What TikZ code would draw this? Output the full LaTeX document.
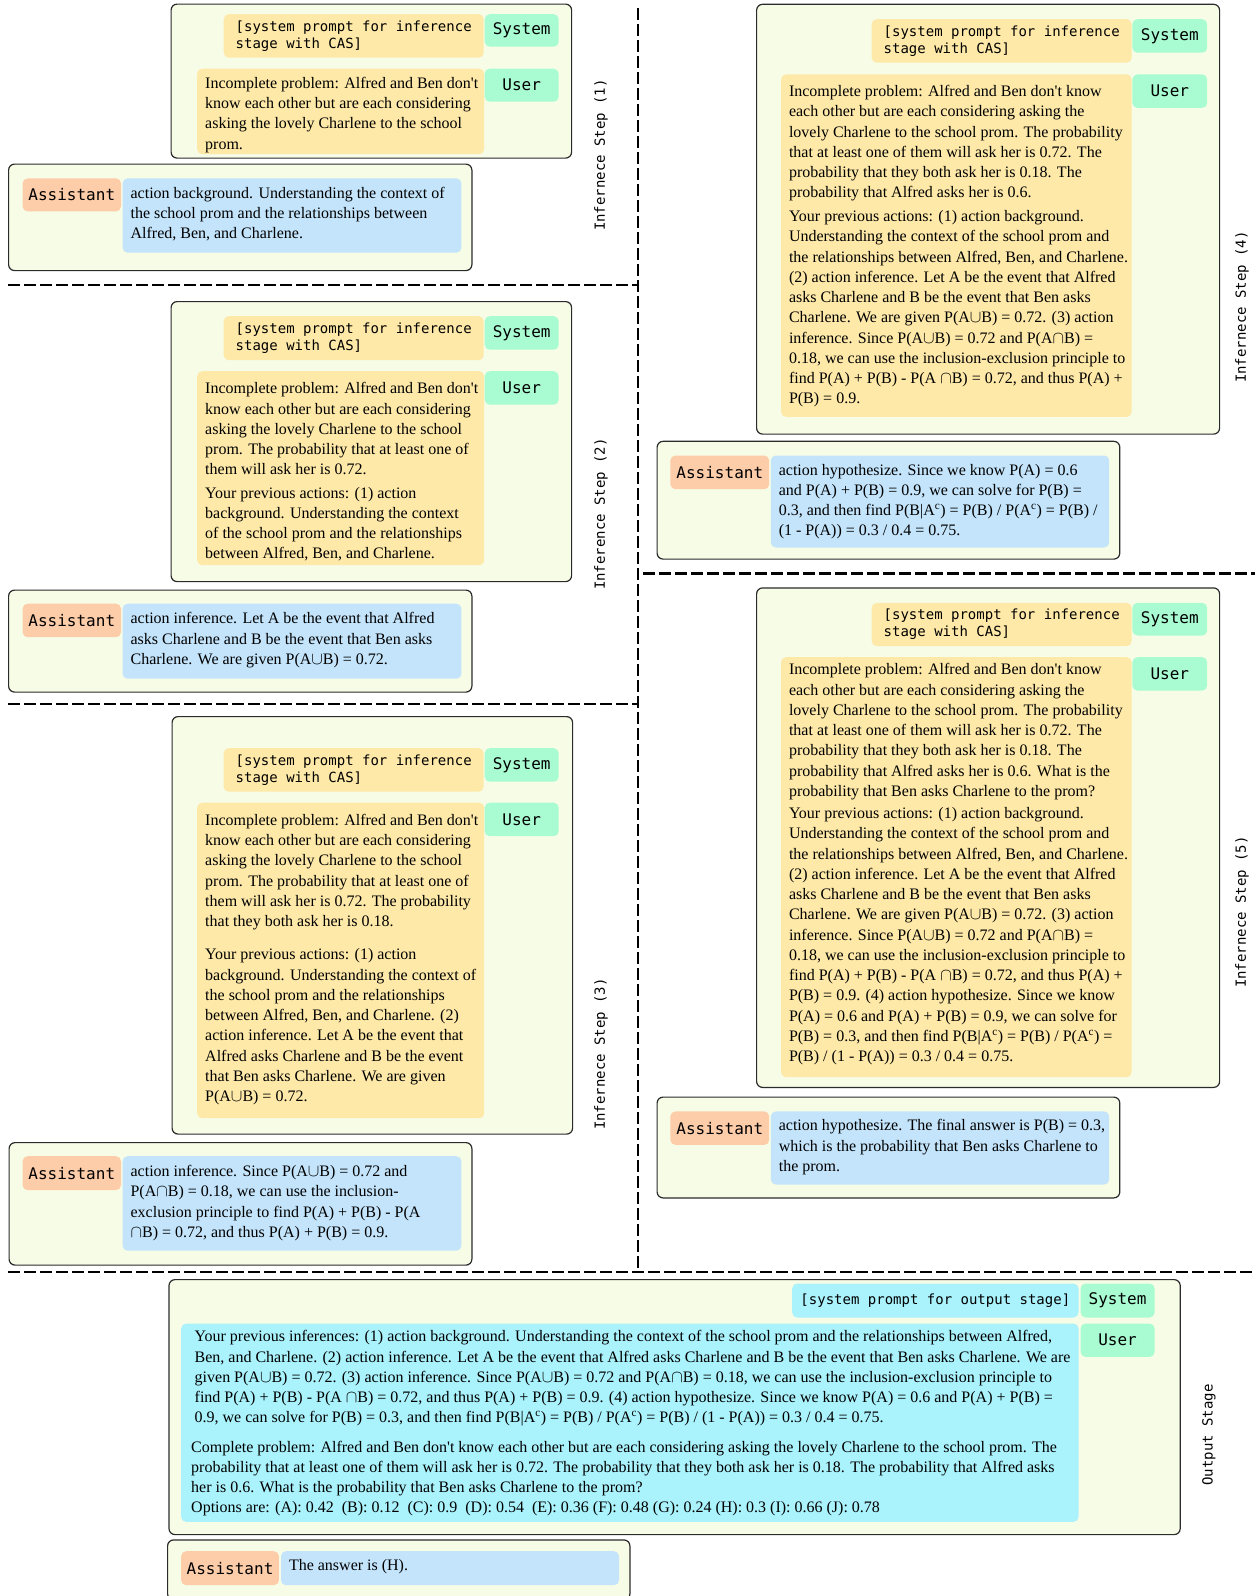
\documentclass[tikz,border=0pt]{standalone}
\usepackage{fontspec}
\setmainfont{Liberation Serif}[Ligatures=TeXOff]
\newfontfamily\tagfont{DejaVu Sans Mono}
\definecolor{panelbg}{HTML}{F7FCE6}
\definecolor{promptbg}{HTML}{FEE9A9}
\definecolor{tagbg}{HTML}{A9FCD2}
\definecolor{asstbg}{HTML}{FDCCA9}
\definecolor{replybg}{HTML}{C3E4FB}
\definecolor{outbg}{HTML}{AAF2FC}
\definecolor{framecol}{HTML}{2B2B2B}
\newcommand{\msgtext}[4]{\makebox[#1][l]{\parbox[t][#2][t]{\dimexpr#1+40pt\relax}{\vspace*{#3}\raggedright #4}}}

\begin{document}
\begin{tikzpicture}[x=1pt,y=-1pt,
    panel/.style={anchor=north west, draw=framecol, line width=1.2pt, fill=panelbg, rounded corners=6pt, inner sep=0pt},
    prompt/.style={anchor=north west, fill=promptbg, rounded corners=5pt, inner sep=0pt, minimum width=260pt, align=left, font=\tagfont\fontsize{14}{17.3}\selectfont},
    tag/.style={anchor=north west, fill=tagbg, rounded corners=5pt, inner sep=0pt, minimum width=74pt, font=\tagfont\fontsize{16}{19}\selectfont},
    asst/.style={tag, fill=asstbg, minimum width=98.4pt},
    msg/.style={anchor=north west, rounded corners=5pt, inner xsep=8pt, inner ysep=0pt, font=\fontsize{16}{20.25}\selectfont},
    steplab/.style={rotate=90, font=\tagfont\fontsize{14}{17}\selectfont},
    sepline/.style={line width=2.6pt, dash pattern=on 12pt off 4pt}]
    \useasboundingbox (0,0) rectangle (1255,1596);

    % step 1
    \node[panel, minimum width=400.5pt, minimum height=154pt] (s1in) at (170.5,3.5) {};
    \node[prompt, minimum height=43.5pt] (s1sys) at (223.5,14) {[system prompt for inference\\stage with CAS]};
    \node[tag, minimum height=32.5pt] (s1systag) at (484.5,14) {System};
    \node[msg, fill=promptbg] (s1user) at (197,68.5) {\msgtext{271pt}{85.5pt}{8.5pt}{Incomplete problem: Alfred and Ben don't\\
        know each other but are each considering\\
        asking the lovely Charlene to the school\\
        prom.}};
    \node[tag, minimum height=33pt] (s1usertag) at (484.5,68.5) {User};
    \node[panel, minimum width=463.3pt, minimum height=106.5pt] (s1out) at (8,163.5) {};
    \node[asst, minimum height=33pt] (s1asst) at (22.4,178.2) {Assistant};
    \node[msg, fill=replybg] (s1reply) at (122.4,178.2) {\msgtext{322.8pt}{74.3pt}{8.8pt}{action background. Understanding the context of\\
        the school prom and the relationships between\\
        Alfred, Ben, and Charlene.}};
    \node[steplab] (s1lab) at (601,155) {Infernece Step (1)};

    % step 2
    \node[panel, minimum width=400.5pt, minimum height=280pt] (s2in) at (170.5,301) {};
    \node[prompt, minimum height=44pt] (s2sys) at (223.5,316) {[system prompt for inference\\stage with CAS]};
    \node[tag, minimum height=33.5pt] (s2systag) at (484.5,316) {System};
    \node[msg, fill=promptbg] (s2user) at (197,371) {\msgtext{271pt}{194pt}{11.4pt}{Incomplete problem: Alfred and Ben don't\\
        know each other but are each considering\\
        asking the lovely Charlene to the school\\
        prom. The probability that at least one of\\
        them will ask her is 0.72.\\[3pt]
        Your previous actions: (1) action\\
        background. Understanding the context\\
        of the school prom and the relationships\\
        between Alfred, Ben, and Charlene.}};
    \node[tag, minimum height=33.5pt] (s2usertag) at (484.5,371) {User};
    \node[panel, minimum width=463.3pt, minimum height=102pt] (s2out) at (8,589.5) {};
    \node[asst, minimum height=33.5pt] (s2asst) at (22.4,603.5) {Assistant};
    \node[msg, fill=replybg] (s2reply) at (122.4,603.5) {\msgtext{322.8pt}{75pt}{8.9pt}{action inference. Let A be the event that Alfred\\
        asks Charlene and B be the event that Ben asks\\
        Charlene. We are given P(A$\cup$B) = 0.72.}};
    \node[steplab] (s2lab) at (601,514) {Inference Step (2)};

    % step 3
    \node[panel, minimum width=400.5pt, minimum height=417.5pt] (s3in) at (171.5,716) {};
    \node[prompt, minimum height=43.5pt] (s3sys) at (223.5,748) {[system prompt for inference\\stage with CAS]};
    \node[tag, minimum height=33.5pt] (s3systag) at (484.5,748) {System};
    \node[msg, fill=promptbg] (s3user) at (197,802.5) {\msgtext{271pt}{315.5pt}{11.4pt}{Incomplete problem: Alfred and Ben don't\\
        know each other but are each considering\\
        asking the lovely Charlene to the school\\
        prom. The probability that at least one of\\
        them will ask her is 0.72. The probability\\
        that they both ask her is 0.18.\\[13pt]
        Your previous actions: (1) action\\
        background. Understanding the context of\\
        the school prom and the relationships\\
        between Alfred, Ben, and Charlene. (2)\\
        action inference. Let A be the event that\\
        Alfred asks Charlene and B be the event\\
        that Ben asks Charlene. We are given\\
        P(A$\cup$B) = 0.72.}};
    \node[tag, minimum height=33.5pt] (s3usertag) at (484.5,802.5) {User};
    \node[panel, minimum width=462.8pt, minimum height=122.5pt] (s3out) at (8.5,1142) {};
    \node[asst, minimum height=34pt] (s3asst) at (22.4,1156) {Assistant};
    \node[msg, fill=replybg] (s3reply) at (122.4,1156) {\msgtext{322.8pt}{94.5pt}{9.1pt}{action inference. Since P(A$\cup$B) = 0.72 and\\
        P(A$\cap$B) = 0.18, we can use the inclusion-\\
        exclusion principle to find P(A) + P(B) - P(A\\
        $\cap$B) = 0.72, and thus P(A) + P(B) = 0.9.}};
    \node[steplab] (s3lab) at (601,1054) {Infernece Step (3)};

    % step 4
    \node[panel, minimum width=463pt, minimum height=429.8pt] (s4in) at (756,3.7) {};
    \node[prompt, minimum height=43.5pt] (s4sys) at (871.5,19) {[system prompt for inference\\stage with CAS]};
    \node[tag, minimum width=74.8pt, minimum height=33.5pt] (s4systag) at (1132.2,19) {System};
    \node[msg, fill=promptbg] (s4user) at (780.8,74.2) {\msgtext{334.7pt}{342.5pt}{11pt}{Incomplete problem: Alfred and Ben don't know\\
        each other but are each considering asking the\\
        lovely Charlene to the school prom. The probability\\
        that at least one of them will ask her is 0.72. The\\
        probability that they both ask her is 0.18. The\\
        probability that Alfred asks her is 0.6.\\[3.5pt]
        Your previous actions: (1) action background.\\
        Understanding the context of the school prom and\\
        the relationships between Alfred, Ben, and Charlene.\\
        (2) action inference. Let A be the event that Alfred\\
        asks Charlene and B be the event that Ben asks\\
        Charlene. We are given P(A$\cup$B) = 0.72. (3) action\\
        inference. Since P(A$\cup$B) = 0.72 and P(A$\cap$B) =\\
        0.18, we can use the inclusion-exclusion principle to\\
        find P(A) + P(B) - P(A $\cap$B) = 0.72, and thus P(A) +\\
        P(B) = 0.9.}};
    \node[tag, minimum width=74.8pt, minimum height=33.5pt] (s4usertag) at (1132.2,74.2) {User};
    \node[panel, minimum width=462.7pt, minimum height=117.8pt] (s4out) at (656.5,440.7) {};
    \node[asst, minimum width=98.8pt, minimum height=33.7pt] (s4asst) at (670.2,455.3) {Assistant};
    \node[msg, fill=replybg] (s4reply) at (770.6,455.3) {\msgtext{322.4pt}{92pt}{8.5pt}{action hypothesize. Since we know P(A) = 0.6\\
        and P(A) + P(B) = 0.9, we can solve for P(B) =\\
        0.3, and then find P(B|A\textsuperscript{c}) = P(B) / P(A\textsuperscript{c}) = P(B) /\\
        (1 - P(A)) = 0.3 / 0.4 = 0.75.}};
    \node[steplab] (s4lab) at (1242,307) {Infernece Step (4)};

    % step 5
    \node[panel, minimum width=463pt, minimum height=499.5pt] (s5in) at (756,587.3) {};
    \node[prompt, minimum height=43.2pt] (s5sys) at (871.5,602.7) {[system prompt for inference\\stage with CAS]};
    \node[tag, minimum width=74.8pt, minimum height=32.6pt] (s5systag) at (1132.2,602.7) {System};
    \node[msg, fill=promptbg] (s5user) at (780.8,657) {\msgtext{334.7pt}{420pt}{6.3pt}{Incomplete problem: Alfred and Ben don't know\\
        each other but are each considering asking the\\
        lovely Charlene to the school prom. The probability\\
        that at least one of them will ask her is 0.72. The\\
        probability that they both ask her is 0.18. The\\
        probability that Alfred asks her is 0.6. What is the\\
        probability that Ben asks Charlene to the prom?\\[2pt]
        Your previous actions: (1) action background.\\
        Understanding the context of the school prom and\\
        the relationships between Alfred, Ben, and Charlene.\\
        (2) action inference. Let A be the event that Alfred\\
        asks Charlene and B be the event that Ben asks\\
        Charlene. We are given P(A$\cup$B) = 0.72. (3) action\\
        inference. Since P(A$\cup$B) = 0.72 and P(A$\cap$B) =\\
        0.18, we can use the inclusion-exclusion principle to\\
        find P(A) + P(B) - P(A $\cap$B) = 0.72, and thus P(A) +\\
        P(B) = 0.9. (4) action hypothesize. Since we know\\
        P(A) = 0.6 and P(A) + P(B) = 0.9, we can solve for\\
        P(B) = 0.3, and then find P(B|A\textsuperscript{c}) = P(B) / P(A\textsuperscript{c}) =\\
        P(B) / (1 - P(A)) = 0.3 / 0.4 = 0.75.}};
    \node[tag, minimum width=74.8pt, minimum height=33.4pt] (s5usertag) at (1132.2,657) {User};
    \node[panel, minimum width=462.7pt, minimum height=100.8pt] (s5out) at (656.5,1096.5) {};
    \node[asst, minimum width=98.8pt, minimum height=33.5pt] (s5asst) at (670.2,1111.2) {Assistant};
    \node[msg, fill=replybg] (s5reply) at (770.6,1111.2) {\msgtext{322.4pt}{73.1pt}{8.1pt}{action hypothesize. The final answer is P(B) = 0.3,\\
        which is the probability that Ben asks Charlene to\\
        the prom.}};
    \node[steplab] (s5lab) at (1242,912) {Infernece Step (5)};

    % output stage
    \node[panel, minimum width=1011.2pt, minimum height=255pt] (outin) at (168.4,1279) {};
    \node[prompt, fill=outbg, minimum width=286.3pt, minimum height=34pt] (outsys) at (792,1283.3) {[system prompt for output stage]};
    \node[tag, minimum height=34pt] (outsystag) at (1080.4,1283.3) {System};
    \node[msg, fill=outbg, inner xsep=10pt, font=\fontsize{16}{20.15}\selectfont] (outuser) at (181,1323.3) {\msgtext{877.3pt}{198.4pt}{7.2pt}{{\leftskip=3.5pt Your previous inferences: (1) action background. Understanding the context of the school prom and the relationships between Alfred,\\
        Ben, and Charlene. (2) action inference. Let A be the event that Alfred asks Charlene and B be the event that Ben asks Charlene. We are\\
        given P(A$\cup$B) = 0.72. (3) action inference. Since P(A$\cup$B) = 0.72 and P(A$\cap$B) = 0.18, we can use the inclusion-exclusion principle to\\
        find P(A) + P(B) - P(A $\cap$B) = 0.72, and thus P(A) + P(B) = 0.9. (4) action hypothesize. Since we know P(A) = 0.6 and P(A) + P(B) =\\
        0.9, we can solve for P(B) = 0.3, and then find P(B|A\textsuperscript{c}) = P(B) / P(A\textsuperscript{c}) = P(B) / (1 - P(A)) = 0.3 / 0.4 = 0.75.\par}
        \vspace{9.4pt}Complete problem: Alfred and Ben don't know each other but are each considering asking the lovely Charlene to the school prom. The\\
        probability that at least one of them will ask her is 0.72. The probability that they both ask her is 0.18. The probability that Alfred asks\\
        her is 0.6. What is the probability that Ben asks Charlene to the prom?\\
        Options are: (A): 0.42~ (B): 0.12~ (C): 0.9~ (D): 0.54~ (E): 0.36 (F): 0.48 (G): 0.24 (H): 0.3 (I): 0.66 (J): 0.78}};
    \node[tag, minimum height=33.4pt] (outusertag) at (1080.4,1323.3) {User};
    \node[panel, minimum width=462.3pt, minimum height=60pt] (outout) at (167,1539.3) {};
    \node[asst, minimum width=97.7pt, minimum height=34pt] (outasst) at (181,1551) {Assistant};
    \node[msg, fill=replybg] (outreply) at (280.8,1551) {\msgtext{322pt}{34pt}{8pt}{The answer is (H).}};
    \node[steplab] (outlab) at (1209,1435) {Output Stage};

    \draw[sepline] (638,8) -- (638,1270);
    \draw[sepline] (8,285) -- (638,285);
    \draw[sepline] (8,704) -- (638,704);
    \draw[sepline] (643,573.3) -- (1255,573.3);
    \draw[sepline] (8,1272) -- (1255,1272);
\end{tikzpicture}
\end{document}
